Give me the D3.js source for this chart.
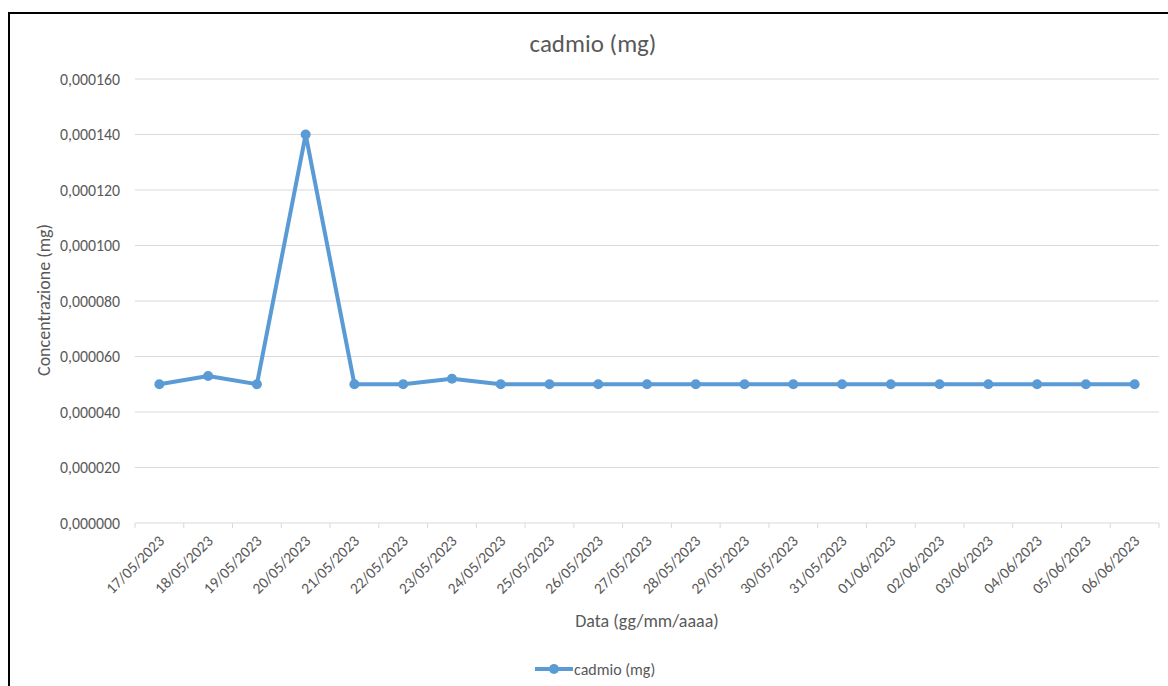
<!DOCTYPE html>
<html>
<head>
<meta charset="utf-8">
<script src="https://cdn.jsdelivr.net/npm/d3@7"></script>
<style>
  body { margin: 0; background: #fff; }
  svg { font-family: Carlito, "Open Sans", "Noto Sans", sans-serif; }
</style>
</head>
<body>
<div id="chart"></div>
<script>
// data
var dates = ["17/05/2023","18/05/2023","19/05/2023","20/05/2023","21/05/2023","22/05/2023",
  "23/05/2023","24/05/2023","25/05/2023","26/05/2023","27/05/2023","28/05/2023","29/05/2023",
  "30/05/2023","31/05/2023","01/06/2023","02/06/2023","03/06/2023","04/06/2023","05/06/2023","06/06/2023"];
var cadmio = [0.000050,0.000053,0.000050,0.000140,0.000050,0.000050,0.000052,0.000050,0.000050,
  0.000050,0.000050,0.000050,0.000050,0.000050,0.000050,0.000050,0.000050,0.000050,0.000050,0.000050,0.000050];
var yTicks = [0,0.00002,0.00004,0.00006,0.00008,0.0001,0.00012,0.00014,0.00016];

var W = 1168, H = 686;
var margin = {top: 79, right: 9, bottom: 163, left: 135},
    width = W - margin.left - margin.right,
    height = H - margin.top - margin.bottom;

var svg = d3.select("#chart").append("svg")
    .attr("width", W)
    .attr("height", H);

// outer frame (cropped at right and bottom in the reference)
svg.append("rect")
  .attr("x", 9).attr("y", 13)
  .attr("width", W + 20).attr("height", H + 20)
  .attr("fill", "none").attr("stroke", "#000").attr("stroke-width", 2);

var g = svg.append("g")
  .attr("transform", "translate(" + margin.left + "," + margin.top + ")");

var x = d3.scaleBand().domain(dates).range([0, width]);
var y = d3.scaleLinear().domain([0, 0.00016]).range([height, 0]);

var fmt = function(d){ return d3.format(".6f")(d).replace(".", ","); };

// gridlines
g.append("g").selectAll("line")
  .data(yTicks.slice(1))
  .enter().append("line")
    .attr("x1", 0).attr("x2", width)
    .attr("y1", function(d){ return y(d); })
    .attr("y2", function(d){ return y(d); })
    .attr("stroke", "#d9d9d9").attr("stroke-width", 1);

// y axis labels
var axis_y = g.append("g")
  .call(d3.axisLeft(y).tickValues(yTicks).tickFormat(fmt).tickSize(0).tickPadding(15));
axis_y.attr("font-family", null).attr("font-size", null);
axis_y.select(".domain").remove();
axis_y.selectAll(".tick text")
  .attr("font-size", 15.8)
  .attr("fill", "#595959");

// x axis line + ticks at category boundaries
var axis_x = g.append("g").attr("transform", "translate(0," + height + ")");
axis_x.append("line")
  .attr("x1", 0).attr("x2", width)
  .attr("stroke", "#d9d9d9").attr("stroke-width", 1);
axis_x.selectAll("line.tk")
  .data(dates.concat(["end"]))
  .enter().append("line")
    .attr("class", "tk")
    .attr("x1", function(d, i){ return i * x.bandwidth(); })
    .attr("x2", function(d, i){ return i * x.bandwidth(); })
    .attr("y1", 0).attr("y2", 5)
    .attr("stroke", "#d9d9d9");
axis_x.selectAll("text")
  .data(dates)
  .enter().append("text")
    .attr("transform", function(d){
      return "translate(" + (x(d) + x.bandwidth() / 2 + 2) + ",15) rotate(-45)";
    })
    .attr("text-anchor", "end")
    .attr("dy", "0.35em")
    .attr("font-size", 15.5)
    .attr("fill", "#595959")
    .text(function(d){ return d; });

// line
var line = d3.line()
  .x(function(d, i){ return x(dates[i]) + x.bandwidth() / 2; })
  .y(function(d){ return y(d); });

g.append("path")
  .datum(cadmio)
  .attr("d", line)
  .attr("fill", "none")
  .attr("stroke", "#5b9bd5")
  .attr("stroke-width", 4)
  .attr("stroke-linejoin", "round");

g.selectAll("circle.pt")
  .data(cadmio)
  .enter().append("circle")
    .attr("class", "pt")
    .attr("cx", function(d, i){ return x(dates[i]) + x.bandwidth() / 2; })
    .attr("cy", function(d){ return y(d); })
    .attr("r", 5)
    .attr("fill", "#5b9bd5");

// titles
svg.append("text")
  .attr("x", 593).attr("y", 52)
  .attr("text-anchor", "middle")
  .attr("font-size", 25)
  .attr("fill", "#595959")
  .text("cadmio (mg)");

svg.append("text")
  .attr("x", margin.left + width / 2).attr("y", 627)
  .attr("text-anchor", "middle")
  .attr("font-size", 18)
  .attr("fill", "#595959")
  .text("Data (gg/mm/aaaa)");

svg.append("text")
  .attr("transform", "translate(50," + (margin.top + height / 2 - 1) + ") rotate(-90)")
  .attr("text-anchor", "middle")
  .attr("font-size", 18)
  .attr("fill", "#595959")
  .text("Concentrazione (mg)");

// legend
var lg = svg.append("g").attr("transform", "translate(535,669)");
lg.append("line")
  .attr("x1", 0).attr("x2", 38)
  .attr("stroke", "#5b9bd5").attr("stroke-width", 4);
lg.append("circle").attr("cx", 19).attr("r", 5).attr("fill", "#5b9bd5");
lg.append("text")
  .attr("x", 39).attr("dy", "0.35em")
  .attr("font-size", 16)
  .attr("fill", "#595959")
  .text("cadmio (mg)");
</script>
</body>
</html>
